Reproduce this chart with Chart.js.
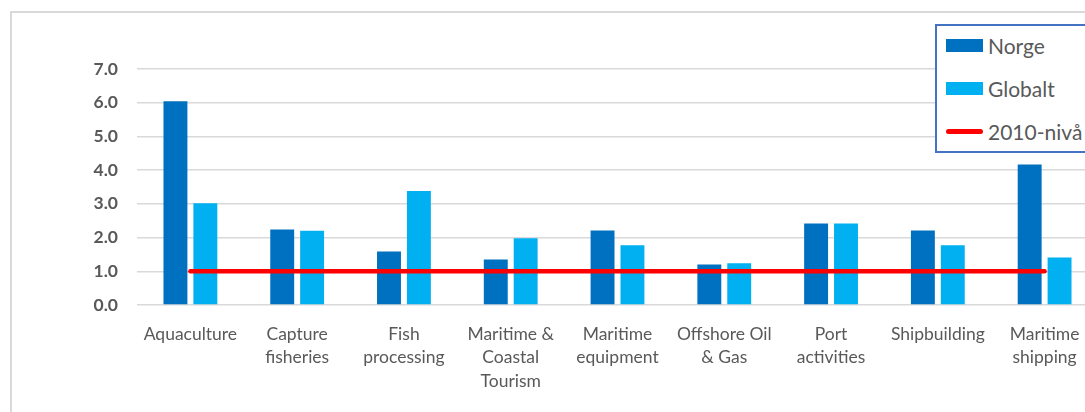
<!DOCTYPE html>
<html>
<head>
<meta charset="utf-8">
<script src="https://cdn.jsdelivr.net/npm/chart.js@4/dist/chart.umd.min.js"></script>
<style>
  html,body{margin:0;padding:0;background:#fff;overflow:hidden;}
  #wrap{position:relative;width:1085px;height:412px;overflow:hidden;}
  #frame{position:absolute;left:10px;top:11px;width:1200px;height:500px;border:2px solid #d9d9d9;box-sizing:border-box;}
  #box{position:absolute;left:0;top:0;width:1110px;height:412px;}
  #legend{position:absolute;left:935px;top:24px;width:200px;height:129px;border:2px solid #4472C4;background:#fff;box-sizing:border-box;font-family:Lato,"Liberation Sans",sans-serif;font-size:21px;color:#595959;}
  .li{position:absolute;left:9px;height:26px;display:flex;align-items:center;}
  .sw{width:37px;height:13px;margin-right:5px;}
  .ln{width:37px;height:5px;border-radius:3px;margin-right:5px;}
</style>
</head>
<body>
<div id="wrap">
  <div id="frame"></div>
  <div id="box"><canvas id="c" width="1110" height="412"></canvas></div>
  <div id="legend"></div>
</div>
<script>
const categories = [
  ["Aquaculture"], ["Capture","fisheries"], ["Fish","processing"],
  ["Maritime &","Coastal","Tourism"], ["Maritime","equipment"], ["Offshore Oil","& Gas"],
  ["Port","activities"], ["Shipbuilding"], ["Maritime","shipping"]
];
const norge   = [6.04, 2.24, 1.59, 1.35, 2.21, 1.20, 2.42, 2.21, 4.17];
const globalt = [3.02, 2.20, 3.38, 1.98, 1.77, 1.24, 2.42, 1.77, 1.41];
const niva2010 = [1, 1, 1, 1, 1, 1, 1, 1, 1];
const yTicks = [0, 1, 2, 3, 4, 5, 6, 7];

const FONT = 'Lato, "Liberation Sans", sans-serif';
const GREY = '#595959';

const chart = new Chart(document.getElementById('c'), {
  type: 'bar',
  data: {
    labels: categories,
    datasets: [
      {label:'2010-nivå', type:'line', data:niva2010, borderColor:'#ff0000', borderWidth:4.5,
       pointRadius:0, borderCapStyle:'round', order:0},
      {label:'Norge', data:norge, backgroundColor:'#0070C0', order:1,
       categoryPercentage:0.56, barPercentage:0.8},
      {label:'Globalt', data:globalt, backgroundColor:'#00B0F0', order:1,
       categoryPercentage:0.56, barPercentage:0.8}
    ]
  },
  options: {
    responsive:false, animation:false,
    layout:{padding:{top:69, right:12, left:0, bottom:0}},
    plugins:{legend:{display:false}, tooltip:{enabled:false}},
    scales:{
      x:{
        grid:{display:false, drawTicks:false}, border:{display:false},
        ticks:{color:GREY, font:{family:FONT, size:17.5, lineHeight:1.36}, padding:17, autoSkip:false, maxRotation:0, minRotation:0},
        afterFit(s){ s.height = 107; }
      },
      y:{
        min:0, max:7,
        afterBuildTicks(s){ s.ticks = yTicks.map(v => ({value:v})); },
        grid:{color:'#d9d9d9', lineWidth:1.5, drawTicks:false}, border:{display:false},
        ticks:{color:GREY, font:{family:FONT, size:17.5, weight:'bold'}, padding:19,
               callback:v => v.toFixed(1)},
        afterFit(s){ s.width = 137; }
      }
    }
  }
});

// legend box, built from the datasets
const lg = document.getElementById('legend');
const order = [1, 2, 0];
order.forEach((di, i) => {
  const ds = chart.data.datasets[di];
  const it = document.createElement('div');
  it.className = 'li';
  it.style.top = (6 + i * 43) + 'px';
  const mk = document.createElement('span');
  if (ds.type === 'line') { mk.className = 'ln'; mk.style.background = ds.borderColor; }
  else { mk.className = 'sw'; mk.style.background = ds.backgroundColor; }
  it.appendChild(mk);
  it.appendChild(document.createTextNode(ds.label));
  lg.appendChild(it);
});
</script>
</body>
</html>
